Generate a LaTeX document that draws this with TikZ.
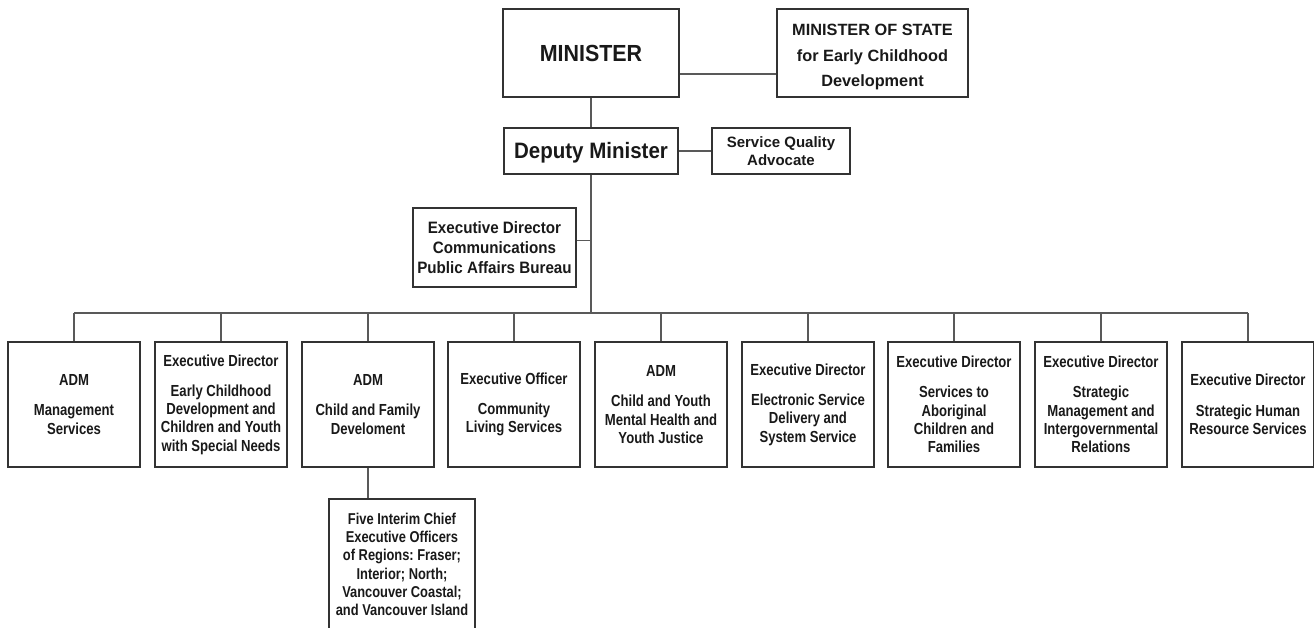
\documentclass[tikz,border=0pt]{standalone}
\usepackage{fontspec}
\setmainfont{Liberation Sans}[FakeStretch=0.82]
\newfontfamily\fA{Liberation Sans}[FakeStretch=0.92]
\newfontfamily\fB{Liberation Sans}
\frenchspacing
\begin{document}
\begin{tikzpicture}[x=1pt,y=-1pt,
  box/.style={draw=black!80, line width=1.1pt, align=center, inner sep=2pt,
    font=\bfseries\fontsize{16}{18.3}\selectfont, text=black!90},
  low/.style={box, minimum width=132pt, minimum height=125pt},
  conn/.style={draw=black!65, line width=1.3pt}]
\useasboundingbox (0,0) rectangle (1314,628);

\node[box, minimum width=176pt, minimum height=88pt, font=\fA\bfseries\fontsize{23.3}{27}\selectfont] (min) at (591,53) {MINISTER};
\node[box, minimum width=191pt, minimum height=88pt, font=\fB\bfseries\fontsize{16.3}{25.5}\selectfont] (mos) at (872.5,53) {\rule{0pt}{20pt}MINISTER OF STATE\\for Early Childhood\\Development};
\node[box, minimum width=174pt, minimum height=46pt, font=\fA\bfseries\fontsize{22.3}{26}\selectfont] (dep) at (591,151) {\rule{0pt}{19pt}Deputy Minister};
\node[box, minimum width=138pt, minimum height=46pt, font=\fB\bfseries\fontsize{15}{18.5}\selectfont] (sqa) at (781,151) {Service Quality\\Advocate};
\node[box, minimum width=163pt, minimum height=79pt, font=\fA\bfseries\fontsize{16.5}{20}\selectfont] (ec) at (494.5,247.5) {Executive Director\\Communications\\Public Affairs Bureau};

\node[low] (b1) at (74,404.5) {ADM\\[12pt]Management\\Services};
\node[low] (b2) at (221,404.5) {Executive Director\\[12pt]Early Childhood\\Development and\\Children and Youth\\with Special Needs};
\node[low] (b3) at (368,404.5) {ADM\\[12pt]Child and Family\\Develoment};
\node[low] (b4) at (514,404.5) {Executive Officer\\[12pt]Community\\Living Services};
\node[low] (b5) at (661,404.5) {ADM\\[12pt]Child and Youth\\Mental Health and\\Youth Justice};
\node[low] (b6) at (808,404.5) {Executive Director\\[12pt]Electronic Service\\Delivery and\\System Service};
\node[low] (b7) at (954,404.5) {Executive Director\\[12pt]Services to\\Aboriginal\\Children and\\Families};
\node[low] (b8) at (1101,404.5) {Executive Director\\[12pt]Strategic\\Management and\\Intergovernmental\\Relations};
\node[low] (b9) at (1248,404.5) {Executive Director\\[12pt]Strategic Human\\Resource Services};
\node[box, minimum width=146pt, minimum height=131pt, font=\bfseries\fontsize{15.7}{18.3}\selectfont] (reg) at (402,564.5) {Five Interim Chief\\Executive Officers\\of Regions: Fraser;\\Interior; North;\\Vancouver Coastal;\\and Vancouver Island};

\coordinate (bus) at (593,313);

\draw[conn] ([yshift=-21pt]min.east) -- ([yshift=-21pt]min.east -| mos.west);
\draw[conn] (min.south) -- (dep.north);
\draw[conn] (dep.east) -- (sqa.west);
\draw[conn] (dep.south) -- (dep.south |- bus);
\draw[conn] ([yshift=7pt]ec.east) -- ([yshift=7pt]ec.east -| dep.south);
\draw[conn] (b1.north |- bus) -- (b9.north |- bus);
\foreach \b in {b1,b2,b3,b4,b5,b6,b7,b8,b9}
  \draw[conn] (\b.north) -- (\b.north |- bus);
\draw[conn] (b3.south) -- (b3.south |- reg.north);
\end{tikzpicture}
\end{document}
